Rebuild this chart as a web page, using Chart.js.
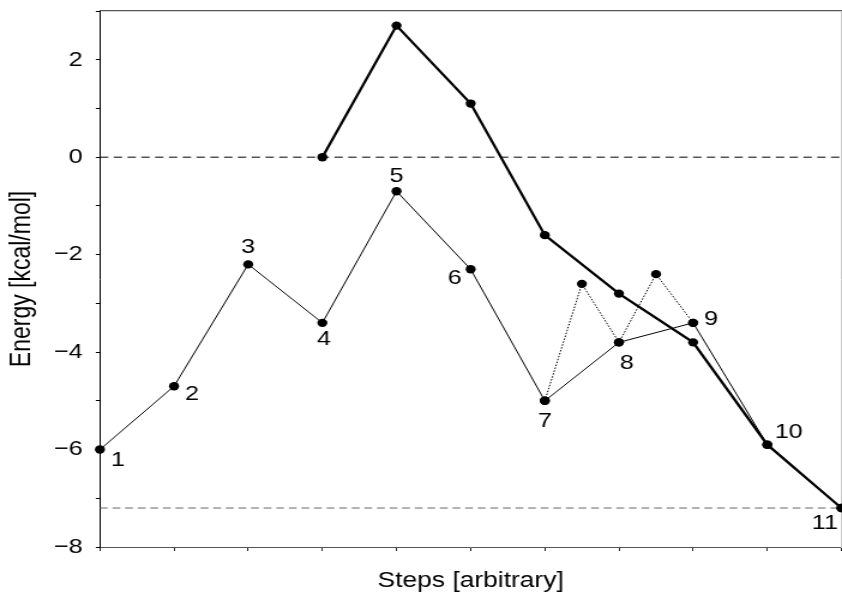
<!DOCTYPE html>
<html>
<head>
<meta charset="utf-8">
<script src="https://cdn.jsdelivr.net/npm/chart.js@4.4.1/dist/chart.umd.min.js"></script>
<style>
  html, body { margin: 0; padding: 0; background: #fff; overflow: hidden; }
  #wrap { width: 842px; height: 597px; overflow: hidden; }
  /* the figure is drawn on a narrower canvas and widened horizontally */
  #c { display: block; transform: scaleX(1.19943); transform-origin: 0 0; }
</style>
</head>
<body>
<div id="wrap"><canvas id="c" width="702" height="597" style="width:702px;height:597px"></canvas></div>
<script>
// ---- data ----
const steps = [0, 1, 2, 3, 4, 5, 6, 7, 8, 9, 10];
const pathAEnergy = [-6.0, -4.7, -2.2, -3.4, -0.7, -2.3, -5.0, -3.8, -3.4, -5.9, -7.2];
const stateLabels = ['1', '2', '3', '4', '5', '6', '7', '8', '9', '10', '11'];

const pathBSteps = [3, 4, 5, 6, 7, 8, 9, 10];
const pathBEnergy = [0.0, 2.7, 1.1, -1.6, -2.8, -3.8, -5.9, -7.2];

const branchSteps = [6, 6.5, 7, 7.5, 8];
const branchEnergy = [-5.0, -2.6, -3.8, -2.4, -3.4];

const referenceLevels = [0, -7.2];
const stepRange = [0, 10];
const energyRange = [-8, 3];
const labelledEnergyTicks = [-8, -6, -4, -2, 0, 2];

// ---- presentation ----
const SX = 842 / 702;
const FONT = '"Liberation Sans", Arial, Helvetica, sans-serif';
// label placement around each state marker: [dx, dy] in screen px
const labelOffsets = [
  [18, 11], [18, 8], [0, -17], [1.5, 16], [0, -15.5], [-16, 9],
  [0, 20], [8, 21], [18, -4], [21.5, -12], [-16.5, 15]
];

const toPoints = (xs, ys) => xs.map((x, i) => ({ x: x, y: ys[i] }));

const stateLabelPlugin = {
  id: 'stateLabels',
  afterDatasetsDraw(chart) {
    const meta = chart.getDatasetMeta(0);
    const ctx = chart.ctx;
    ctx.save();
    ctx.font = '21px ' + FONT;
    ctx.fillStyle = '#000';
    ctx.textAlign = 'center';
    ctx.textBaseline = 'middle';
    meta.data.forEach((pt, i) => {
      const off = labelOffsets[i];
      ctx.fillText(stateLabels[i], pt.x + off[0] / SX, pt.y + off[1]);
    });
    ctx.restore();
  }
};

const dot = { pointRadius: 4.2, pointHoverRadius: 4.2, pointBackgroundColor: '#000', pointBorderWidth: 0 };

new Chart(document.getElementById('c'), {
  type: 'line',
  data: {
    datasets: [
      Object.assign({
        label: 'path A',
        data: toPoints(steps, pathAEnergy),
        borderColor: '#000', borderWidth: 1, order: 1, clip: false
      }, dot),
      Object.assign({
        label: 'path B',
        data: toPoints(pathBSteps, pathBEnergy),
        borderColor: '#000', borderWidth: 2.3, order: 0, clip: false
      }, dot),
      Object.assign({
        label: 'branch',
        data: toPoints(branchSteps, branchEnergy),
        borderColor: '#000', borderWidth: 1, borderDash: [1.5, 1.5], order: 2, clip: false
      }, dot),
      {
        label: 'level 0',
        data: toPoints(stepRange, [referenceLevels[0], referenceLevels[0]]),
        borderColor: '#000', borderWidth: 1, borderDash: [7, 4.5], pointRadius: 0, order: 3
      },
      {
        label: 'level end',
        data: toPoints(stepRange, [referenceLevels[1], referenceLevels[1]]),
        borderColor: '#666', borderWidth: 1, borderDash: [6.5, 4], pointRadius: 0, order: 4
      }
    ]
  },
  options: {
    responsive: false,
    devicePixelRatio: 1,
    animation: false,
    events: [],
    layout: { autoPadding: false, padding: { top: 11, right: 0.5, bottom: 0, left: 0 } },
    plugins: { legend: { display: false }, tooltip: { enabled: false } },
    scales: {
      x: {
        type: 'linear', position: 'bottom',
        min: stepRange[0], max: stepRange[1],
        ticks: { display: false, stepSize: 1 },
        grid: { drawOnChartArea: false, drawTicks: true, tickLength: 4, color: '#222' },
        border: { display: true, color: '#555', width: 1 },
        title: {
          display: true, text: 'Steps [arbitrary]', color: '#000',
          font: { family: FONT, size: 22 }, padding: { top: 0, bottom: 3 }
        },
        afterFit(s) { s.height = 50; s.paddingLeft = 0; s.paddingRight = 0; }
      },
      xTop: {
        type: 'linear', position: 'top',
        min: stepRange[0], max: stepRange[1],
        ticks: { display: false },
        grid: { display: false, drawTicks: false },
        border: { display: true, color: '#555', width: 1.3 },
        afterFit(s) { s.height = 0; s.paddingLeft = 0; s.paddingRight = 0; }
      },
      y: {
        type: 'linear', position: 'left',
        min: energyRange[0], max: energyRange[1],
        ticks: {
          stepSize: 1, autoSkip: false, padding: 11, color: '#000',
          font: { family: FONT, size: 21 },
          callback: (v) => labelledEnergyTicks.includes(v) ? String(v).replace('-', '\u2212') : ''
        },
        grid: { drawOnChartArea: false, drawTicks: true, tickLength: 3.4, color: '#000' },
        border: { display: true, color: '#000', width: 1 },
        title: {
          display: true, text: 'Energy [kcal/mol]', color: '#000',
          font: { family: FONT, size: 23 }, padding: { top: 5, bottom: 0 }
        },
        afterFit(s) { s.width = 83.3; s.paddingTop = 0; s.paddingBottom = 0; }
      },
      yRight: {
        type: 'linear', position: 'right',
        min: energyRange[0], max: energyRange[1],
        ticks: { display: false },
        grid: { display: false, drawTicks: false },
        border: { display: true, color: '#c8c8c8', width: 1 },
        afterFit(s) { s.width = 0; s.paddingTop = 0; s.paddingBottom = 0; }
      }
    }
  },
  plugins: [stateLabelPlugin]
});
</script>
</body>
</html>
